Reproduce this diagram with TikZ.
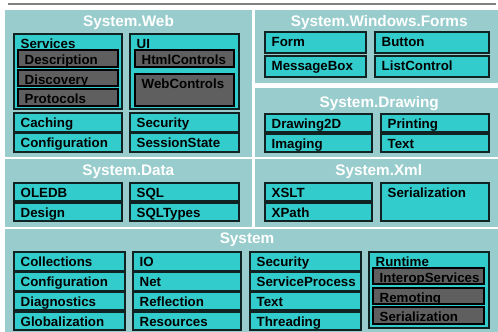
\documentclass[tikz,border=0pt]{standalone}
\usepackage{fontspec}
\setmainfont{Liberation Sans}
\usetikzlibrary{calc}
\definecolor{panelc}{HTML}{99CCCC}
\definecolor{cyanc}{HTML}{33CCCC}
\definecolor{darkc}{HTML}{5F5F5F}
\definecolor{edgec}{HTML}{102222}
\definecolor{rulec}{HTML}{808080}
\tikzset{
  panelbox/.style={fill=panelc, draw=none, inner sep=0pt, outer sep=0pt, anchor=north west},
  cbox/.style={fill=cyanc, draw=edgec, line width=1.2pt, inner sep=0pt, outer sep=0pt, anchor=north west},
  dbox/.style={fill=darkc, draw=black, line width=1.2pt, inner sep=0pt, outer sep=0pt, anchor=north west},
  lbl/.style={inner sep=0pt, anchor=base west, text=black, font=\bfseries\fontsize{13.3}{14}\selectfont},
  ttl/.style={inner sep=0pt, anchor=base, text=white, font=\bfseries\fontsize{15.3}{16}\selectfont},
}
% #1 style, #2 name, #3 x1, #4 y1, #5 x2, #6 y2, #7 text
\newcommand\mybox[7]{%
  \node[#1, minimum width={#5-#3}, minimum height={#6-#4}] (#2) at (#3,#4) {};
  \node[lbl] (#2t) at ($(#2.north west)+(6.5,14.2)$) {#7};
}
\newcommand\mypanel[5]{%
  \node[panelbox, minimum width={#4-#2}, minimum height={#5-#3}] (#1) at (#2,#3) {};
}
\begin{document}
\begin{tikzpicture}[x=1pt,y=-1pt]
\useasboundingbox[fill=white] (0,0) rectangle (498,332);
\draw[rulec, line width=2pt] (8,4) -- (496,4);
% panels
\mypanel{web}{5}{10}{252}{157}
\mypanel{forms}{255}{10}{498}{83}
\mypanel{drawing}{255}{88}{498}{157}
\mypanel{data}{5}{159}{252}{227}
\mypanel{xml}{255}{159}{498}{227}
\mypanel{sys}{5}{229}{498}{332}
% titles
\node[ttl] (webT) at (128.5,26.5) {System.Web};
\node[ttl] (formsT) at (379.2,26) {System.Windows.Forms};
\node[ttl] (drawT) at (379.2,107) {System.Drawing};
\node[ttl] (dataT) at (128.3,175) {System.Data};
\node[ttl] (xmlT) at (378.7,175) {System.Xml};
\node[ttl] (sysT) at (247,243.5) {System};
% System.Web
\mybox{cbox}{services}{14}{34}{122}{109}{Services}
\mybox{dbox}{descr}{18}{50}{118}{67}{Description}
\mybox{dbox}{disco}{18}{70}{118}{86}{Discovery}
\mybox{dbox}{proto}{18}{89}{118}{106}{Protocols}
\mybox{cbox}{ui}{130}{34}{239}{109}{UI}
\mybox{dbox}{html}{135}{50}{234}{67}{HtmlControls}
\mybox{dbox}{webc}{135}{74}{234}{106}{WebControls}
\mybox{cbox}{caching}{14}{113}{122}{132}{Caching}
\mybox{cbox}{wconf}{14}{133}{122}{152}{Configuration}
\mybox{cbox}{wsec}{130}{113}{239}{132}{Security}
\mybox{cbox}{sess}{130}{133}{239}{152}{SessionState}
% System.Windows.Forms
\mybox{cbox}{form}{265}{32}{366}{53}{Form}
\mybox{cbox}{msgbox}{265}{56}{366}{77}{MessageBox}
\mybox{cbox}{button}{375}{32}{489}{53}{Button}
\mybox{cbox}{listc}{375}{56}{489}{77}{ListControl}
% System.Drawing
\mybox{cbox}{d2d}{265}{114}{372}{132}{Drawing2D}
\mybox{cbox}{imaging}{265}{134}{372}{152}{Imaging}
\mybox{cbox}{printing}{381}{114}{489}{132}{Printing}
\mybox{cbox}{dtext}{381}{134}{489}{152}{Text}
% System.Data
\mybox{cbox}{oledb}{14}{183}{122}{201}{OLEDB}
\mybox{cbox}{design}{14}{203}{122}{221}{Design}
\mybox{cbox}{sql}{130}{183}{239}{201}{SQL}
\mybox{cbox}{sqlt}{130}{203}{239}{221}{SQLTypes}
% System.Xml
\mybox{cbox}{xslt}{265}{183}{372}{201}{XSLT}
\mybox{cbox}{xpath}{265}{203}{372}{221}{XPath}
\mybox{cbox}{xser}{381}{183}{489}{221}{Serialization}
% System
\mybox{cbox}{coll}{14}{252}{125}{271}{Collections}
\mybox{cbox}{sconf}{14}{272}{125}{291}{Configuration}
\mybox{cbox}{diag}{14}{292}{125}{310}{Diagnostics}
\mybox{cbox}{glob}{14}{312}{125}{330}{Globalization}
\mybox{cbox}{io}{133}{252}{241}{271}{IO}
\mybox{cbox}{net}{133}{272}{241}{291}{Net}
\mybox{cbox}{refl}{133}{292}{241}{310}{Reflection}
\mybox{cbox}{res}{133}{312}{241}{330}{Resources}
\mybox{cbox}{ssec}{250}{252}{361}{271}{Security}
\mybox{cbox}{sproc}{250}{272}{361}{291}{ServiceProcess}
\mybox{cbox}{stext}{250}{292}{361}{310}{Text}
\mybox{cbox}{thread}{250}{312}{361}{330}{Threading}
\mybox{cbox}{runtime}{369}{252}{489}{328}{Runtime}
\mybox{dbox}{interop}{373}{268}{484}{284}{InteropServices}
\mybox{dbox}{remoting}{373}{288}{484}{304}{Remoting}
\mybox{dbox}{rser}{373}{307}{484}{324}{Serialization}
\end{tikzpicture}
\end{document}
